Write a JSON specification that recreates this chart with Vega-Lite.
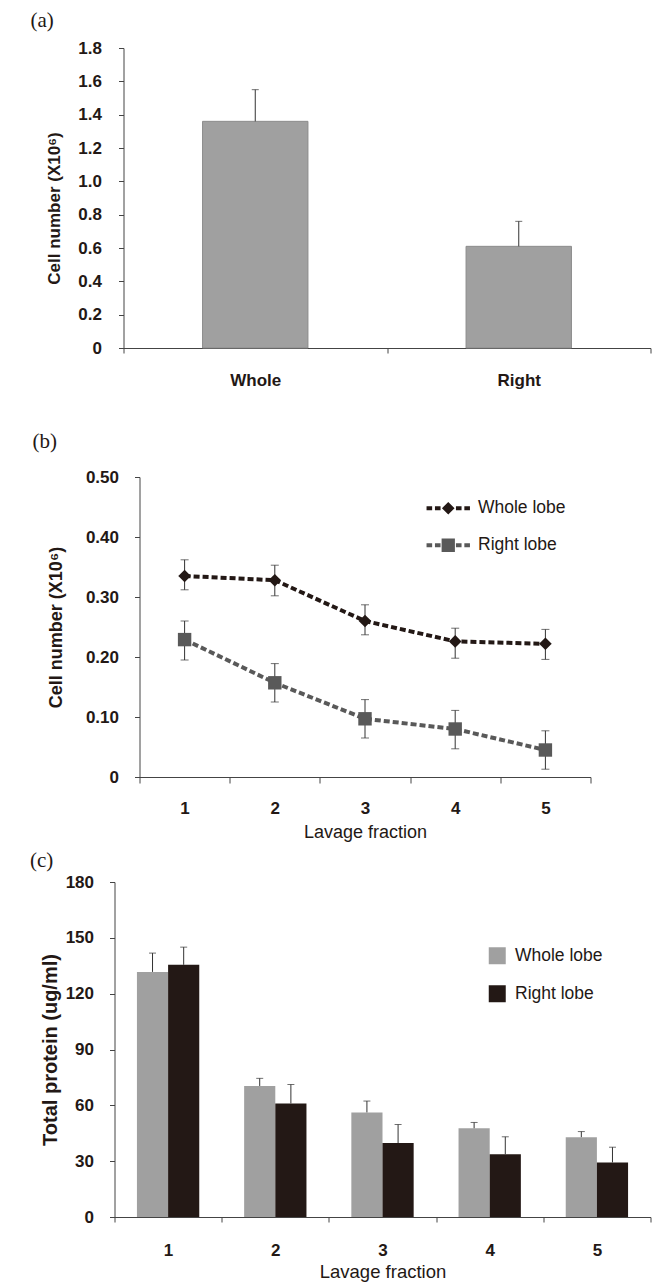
{
  "$schema": "https://vega.github.io/schema/vega-lite/v6.json",
  "padding": {"left": 29.5, "top": 10, "right": 5, "bottom": 5},
  "spacing": 9,
  "resolve": {"scale": {"color": "independent", "shape": "independent"}, "legend": {"color": "independent", "shape": "independent"}},
  "config": {
    "view": {"stroke": null},
    "font": "Liberation Sans",
    "axis": {"grid": false, "labelOverlap": false, "domainColor": "#444444", "tickColor": "#444444", "tickSize": 5, "labelFont": "Liberation Sans", "labelFontSize": 17, "labelFontWeight": "bold", "labelColor": "#231815", "titleColor": "#231815", "titleFont": "Liberation Sans"},
    "title": {"font": "Liberation Serif", "fontSize": 21, "fontWeight": "normal", "anchor": "start", "frame": "group", "color": "#231815"},
    "legend": {"labelFont": "Liberation Sans", "labelFontSize": 17.5, "labelColor": "#231815"}
  },
  "vconcat": [
    {
      "width": 536,
      "height": 300,
      "title": {"text": "(a)", "dx": -84, "offset": 8},
      "data": {"values": [
        {"group": "Whole", "value": 1.36, "hi": 1.55},
        {"group": "Right", "value": 0.61, "hi": 0.76}
      ]},
      "encoding": {
        "x": {"field": "group", "type": "nominal", "sort": ["Whole", "Right"],
          "scale": {"range": [9, 536], "paddingInner": 0, "paddingOuter": 0},
          "axis": {"title": null, "labelAngle": 0, "tickBand": "extent", "labelPadding": 19}}
      },
      "layer": [
        {
          "mark": {"type": "bar", "width": {"band": 0.4}, "color": "#a0a0a0", "stroke": "#8c8c8c", "strokeWidth": 1},
          "encoding": {
            "y": {"field": "value", "type": "quantitative", "scale": {"domain": [0, 1.8]},
              "axis": {"title": "Cell number (X10⁶)", "titleFontSize": 17, "titleFontWeight": "bold", "titlePadding": 14, "titleY": 160,
                "values": [0, 0.2, 0.4, 0.6, 0.8, 1.0, 1.2, 1.4, 1.6, 1.8], "tickCount": 10,
                "labelExpr": "datum.value == 0 ? '0' : format(datum.value, '.1f')", "offset": -9, "labelPadding": 17}}
          }
        },
        {
          "mark": {"type": "rule", "color": "#333333", "strokeWidth": 1},
          "encoding": {"y": {"field": "value", "type": "quantitative"}, "y2": {"field": "hi"}}
        },
        {
          "mark": {"type": "tick", "color": "#333333", "size": 7, "thickness": 1},
          "encoding": {"y": {"field": "hi", "type": "quantitative"}}
        }
      ]
    },
    {
      "width": 476,
      "height": 300,
      "title": {"text": ["", "(b)"], "dx": -82, "offset": 16.5, "lineHeight": 33},
      "data": {"values": [
        {"fraction": "1", "series": "Whole lobe", "value": 0.335, "lo": 0.312, "hi": 0.362},
        {"fraction": "2", "series": "Whole lobe", "value": 0.328, "lo": 0.302, "hi": 0.353},
        {"fraction": "3", "series": "Whole lobe", "value": 0.260, "lo": 0.237, "hi": 0.287},
        {"fraction": "4", "series": "Whole lobe", "value": 0.226, "lo": 0.198, "hi": 0.248},
        {"fraction": "5", "series": "Whole lobe", "value": 0.222, "lo": 0.196, "hi": 0.246},
        {"fraction": "1", "series": "Right lobe", "value": 0.229, "lo": 0.195, "hi": 0.260},
        {"fraction": "2", "series": "Right lobe", "value": 0.157, "lo": 0.125, "hi": 0.189},
        {"fraction": "3", "series": "Right lobe", "value": 0.097, "lo": 0.065, "hi": 0.129},
        {"fraction": "4", "series": "Right lobe", "value": 0.080, "lo": 0.047, "hi": 0.111},
        {"fraction": "5", "series": "Right lobe", "value": 0.045, "lo": 0.013, "hi": 0.077}
      ]},
      "encoding": {
        "x": {"field": "fraction", "type": "nominal", "sort": ["1", "2", "3", "4", "5"],
          "scale": {"range": [25, 476], "paddingInner": 0, "paddingOuter": 0},
          "axis": {"title": "Lavage fraction", "titleFontSize": 18, "titleFontWeight": "normal", "titlePadding": 7, "labelAngle": 0, "tickBand": "extent", "labelPadding": 17, "tickSize": 6}}
      },
      "layer": [
        {
          "mark": {"type": "rule", "color": "#333333", "strokeWidth": 1},
          "encoding": {
            "y": {"field": "lo", "type": "quantitative", "scale": {"domain": [0, 0.5]},
              "axis": {"title": "Cell number (X10⁶)", "titleFontSize": 18, "titleFontWeight": "bold", "titlePadding": 20,
                "values": [0, 0.1, 0.2, 0.3, 0.4, 0.5], "tickCount": 6,
                "labelExpr": "datum.value == 0 ? '0' : format(datum.value, '.2f')", "offset": -25, "labelPadding": 16}},
            "y2": {"field": "hi"}
          }
        },
        {
          "mark": {"type": "tick", "color": "#333333", "size": 8, "thickness": 1},
          "encoding": {"y": {"field": "lo", "type": "quantitative"}}
        },
        {
          "mark": {"type": "tick", "color": "#333333", "size": 8, "thickness": 1},
          "encoding": {"y": {"field": "hi", "type": "quantitative"}}
        },
        {
          "transform": [{"filter": "datum.series == 'Whole lobe'"}],
          "mark": {"type": "line", "color": "#231815", "strokeWidth": 4, "strokeDash": [6, 3]},
          "encoding": {"y": {"field": "value", "type": "quantitative"}}
        },
        {
          "transform": [{"filter": "datum.series == 'Right lobe'"}],
          "mark": {"type": "line", "color": "#595959", "strokeWidth": 4, "strokeDash": [6, 3]},
          "encoding": {"y": {"field": "value", "type": "quantitative"}}
        },
        {
          "transform": [{"filter": "datum.series == 'Whole lobe'"}],
          "mark": {"type": "point", "shape": "diamond", "filled": true, "size": 160, "opacity": 1, "color": "#231815"},
          "encoding": {"y": {"field": "value", "type": "quantitative"}}
        },
        {
          "transform": [{"filter": "datum.series == 'Right lobe'"}],
          "mark": {"type": "point", "shape": "square", "filled": true, "size": 180, "opacity": 1, "color": "#595959"},
          "encoding": {"y": {"field": "value", "type": "quantitative"}}
        },
        {
          "mark": {"type": "point", "filled": true, "opacity": 0},
          "encoding": {
            "y": {"field": "value", "type": "quantitative"},
            "color": {"field": "series", "type": "nominal", "scale": {"domain": ["Whole lobe", "Right lobe"], "range": ["#231815", "#595959"]},
              "legend": {"title": null, "orient": "none", "legendX": 325, "legendY": 22.5, "symbolSize": 196, "symbolStrokeWidth": 0, "symbolOpacity": 1, "labelOffset": 21, "rowPadding": 18}},
            "shape": {"field": "series", "type": "nominal", "scale": {"domain": ["Whole lobe", "Right lobe"], "range": [
              "M-3.1,-0.3H-2.3V0.3H-3.1Z M-1.9,-0.3H-1.1V0.3H-1.9Z M1.1,-0.3H1.9V0.3H1.1Z M2.3,-0.3H3.1V0.3H2.3Z M0,-0.9L0.9,0L0,0.9L-0.9,0Z",
              "M-3.1,-0.3H-2.3V0.3H-3.1Z M-1.9,-0.3H-1.1V0.3H-1.9Z M1.1,-0.3H1.9V0.3H1.1Z M2.3,-0.3H3.1V0.3H2.3Z M-0.95,-0.95H0.95V0.95H-0.95Z"]},
              "legend": {"title": null, "orient": "none", "legendX": 325, "legendY": 22.5, "symbolSize": 196, "symbolStrokeWidth": 0, "symbolOpacity": 1, "labelOffset": 21, "rowPadding": 18}}
          }
        }
      ]
    },
    {
      "width": 536,
      "height": 335,
      "title": {"text": "(c)", "dx": -84.5, "offset": 2},
      "data": {"values": [
        {"fraction": "1", "series": "Whole lobe", "value": 131.7, "hi": 141.8},
        {"fraction": "2", "series": "Whole lobe", "value": 70.4, "hi": 74.5},
        {"fraction": "3", "series": "Whole lobe", "value": 56.2, "hi": 62.3},
        {"fraction": "4", "series": "Whole lobe", "value": 47.7, "hi": 50.8},
        {"fraction": "5", "series": "Whole lobe", "value": 42.9, "hi": 45.9},
        {"fraction": "1", "series": "Right lobe", "value": 135.5, "hi": 145.0},
        {"fraction": "2", "series": "Right lobe", "value": 61.0, "hi": 71.2},
        {"fraction": "3", "series": "Right lobe", "value": 39.7, "hi": 49.7},
        {"fraction": "4", "series": "Right lobe", "value": 33.7, "hi": 43.1},
        {"fraction": "5", "series": "Right lobe", "value": 29.3, "hi": 37.5}
      ]},
      "encoding": {
        "x": {"field": "fraction", "type": "nominal", "sort": ["1", "2", "3", "4", "5"],
          "scale": {"paddingInner": 0, "paddingOuter": 0},
          "axis": {"title": "Lavage fraction", "titleFontSize": 18.5, "titleFontWeight": "normal", "titlePadding": 4, "labelAngle": 0, "tickBand": "extent", "labelPadding": 20}},
        "xOffset": {"field": "series", "type": "nominal", "sort": ["Whole lobe", "Right lobe"], "scale": {"paddingInner": 0, "paddingOuter": 0.72}}
      },
      "layer": [
        {
          "mark": {"type": "bar"},
          "encoding": {
            "y": {"field": "value", "type": "quantitative", "scale": {"domain": [0, 180]},
              "axis": {"title": "Total protein (ug/ml)", "titleFontSize": 20, "titleFontWeight": "bold", "titlePadding": 5,
                "values": [0, 30, 60, 90, 120, 150, 180], "tickCount": 7, "labelPadding": 16}},
            "color": {"field": "series", "type": "nominal", "scale": {"domain": ["Whole lobe", "Right lobe"], "range": ["#a0a0a0", "#231815"]},
              "legend": {"title": null, "orient": "none", "legendX": 374, "legendY": 65, "symbolType": "square", "symbolSize": 289, "symbolStrokeWidth": 0, "labelOffset": 9, "rowPadding": 19}}
          }
        },
        {
          "mark": {"type": "rule", "color": "#333333", "strokeWidth": 1},
          "encoding": {"y": {"field": "value", "type": "quantitative"}, "y2": {"field": "hi"}}
        },
        {
          "mark": {"type": "tick", "color": "#333333", "size": 7, "thickness": 1},
          "encoding": {"y": {"field": "hi", "type": "quantitative"}}
        }
      ]
    }
  ]
}
